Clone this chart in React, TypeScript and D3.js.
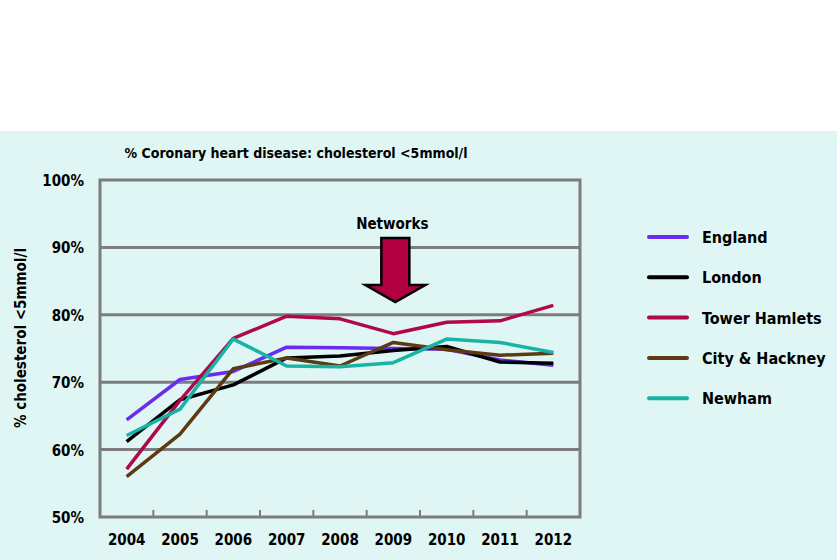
import React, { useRef, useEffect } from 'react';
import * as d3 from 'd3';

const years = ['2004', '2005', '2006', '2007', '2008', '2009', '2010', '2011', '2012'];
const england = [64.4, 70.4, 71.6, 75.2, 75.1, 75.0, 74.9, 73.3, 72.5];
const london = [61.2, 67.4, 69.6, 73.6, 73.9, 74.7, 75.3, 73.0, 72.8];
const towerHamlets = [57.1, 67.3, 76.5, 79.8, 79.4, 77.2, 78.9, 79.1, 81.4];
const cityHackney = [56.0, 62.3, 72.0, 73.6, 72.4, 75.9, 74.8, 74.0, 74.3];
const newham = [62.1, 66.0, 76.4, 72.4, 72.3, 72.9, 76.4, 75.9, 74.4];
const seriesNames = ['England', 'London', 'Tower Hamlets', 'City & Hackney', 'Newham'];
const seriesColors = ['#6a2cf0', '#000000', '#b0094b', '#5e3a12', '#17b3a5'];
const yTicks = [50, 60, 70, 80, 90, 100];

export default function App() {
  const ref = useRef<SVGSVGElement>(null);

  useEffect(() => {
    const svg = d3.select(ref.current);
    svg.selectAll('*').remove();
    const width = 837;
    const height = 560;
    const font = '"DejaVu Sans Condensed", "DejaVu Sans", sans-serif';

    // background panels
    svg.append('rect').attr('width', width).attr('height', height).attr('fill', '#ffffff');
    svg.append('rect').attr('y', 131).attr('width', width).attr('height', height - 131).attr('fill', '#dff6f4');

    const plot = { left: 100, right: 580, top: 180, bottom: 517 };

    const x = d3.scaleBand().domain(years).range([plot.left, plot.right]);
    const y = d3.scaleLinear().domain([50, 100]).range([plot.bottom, plot.top]);

    const grid = '#7d7d7d';

    // gridlines
    svg.append('g')
      .selectAll('line')
      .data(yTicks.slice(1, -1))
      .enter()
      .append('line')
      .attr('x1', plot.left)
      .attr('x2', plot.right)
      .attr('y1', d => y(d))
      .attr('y2', d => y(d))
      .attr('stroke', grid)
      .attr('stroke-width', 3);

    // tick marks at bottom between years
    svg.append('g')
      .selectAll('line')
      .data(years.slice(1))
      .enter()
      .append('line')
      .attr('x1', d => x(d)!)
      .attr('x2', d => x(d)!)
      .attr('y1', plot.bottom)
      .attr('y2', plot.bottom - 7)
      .attr('stroke', grid)
      .attr('stroke-width', 2);

    // plot frame
    svg.append('rect')
      .attr('x', plot.left)
      .attr('y', plot.top)
      .attr('width', plot.right - plot.left)
      .attr('height', plot.bottom - plot.top)
      .attr('fill', 'none')
      .attr('stroke', grid)
      .attr('stroke-width', 3);

    // y labels
    svg.append('g')
      .selectAll('text')
      .data(yTicks)
      .enter()
      .append('text')
      .attr('x', 84)
      .attr('y', d => y(d) + 6)
      .attr('text-anchor', 'end')
      .style('font-family', font)
      .style('font-weight', 'bold')
      .style('font-size', '15px')
      .text(d => d + '%');

    // x labels
    svg.append('g')
      .selectAll('text')
      .data(years)
      .enter()
      .append('text')
      .attr('x', d => x(d)! + x.bandwidth() / 2)
      .attr('y', 545)
      .attr('text-anchor', 'middle')
      .style('font-family', font)
      .style('font-weight', 'bold')
      .style('font-size', '15px')
      .text(d => d);

    // title
    svg.append('text')
      .attr('x', 296)
      .attr('y', 158)
      .attr('text-anchor', 'middle')
      .style('font-family', font)
      .style('font-weight', 'bold')
      .style('font-size', '14px')
      .text('% Coronary heart disease: cholesterol <5mmol/l');

    // y axis title
    svg.append('text')
      .attr('transform', `translate(26, 338) rotate(-90)`)
      .attr('text-anchor', 'middle')
      .style('font-family', font)
      .style('font-weight', 'bold')
      .style('font-size', '15px')
      .text('% cholesterol <5mmol/l');

    // lines
    const allSeries = [england, london, towerHamlets, cityHackney, newham];
    const line = d3.line<number>()
      .x((d, i) => x(years[i])! + x.bandwidth() / 2)
      .y(d => y(d));

    svg.append('g')
      .selectAll('path')
      .data(allSeries)
      .enter()
      .append('path')
      .attr('d', d => line(d))
      .attr('fill', 'none')
      .attr('stroke', (d, i) => seriesColors[i])
      .attr('stroke-width', 3.5)
      .attr('stroke-linejoin', 'round');

    // networks annotation
    const ax = x('2009')! + x.bandwidth() / 2 + 2;
    svg.append('text')
      .attr('x', ax - 3)
      .attr('y', 229)
      .attr('text-anchor', 'middle')
      .style('font-family', font)
      .style('font-weight', 'bold')
      .style('font-size', '15px')
      .text('Networks');

    const arrow = d3.path();
    arrow.moveTo(ax - 14, 238);
    arrow.lineTo(ax + 14, 238);
    arrow.lineTo(ax + 14, 285);
    arrow.lineTo(ax + 30, 285);
    arrow.lineTo(ax, 302);
    arrow.lineTo(ax - 30, 285);
    arrow.lineTo(ax - 14, 285);
    arrow.closePath();
    svg.append('path')
      .attr('d', arrow.toString())
      .attr('fill', '#b0003f')
      .attr('stroke', '#000')
      .attr('stroke-width', 2.5);

    // legend
    const legend = svg.append('g');
    seriesNames.forEach((name, i) => {
      const ly = 237 + i * 40.3;
      legend.append('line')
        .attr('x1', 649)
        .attr('x2', 687)
        .attr('y1', ly)
        .attr('y2', ly)
        .attr('stroke', seriesColors[i])
        .attr('stroke-width', 4)
        .attr('stroke-linecap', 'round');
      legend.append('text')
        .attr('x', 702)
        .attr('y', ly + 6)
        .style('font-family', font)
        .style('font-weight', 'bold')
        .style('font-size', '16px')
        .text(name);
    });
  }, []);

  return (
    <svg
      ref={ref}
      width={837}
      height={560}
      style={{ position: 'absolute', left: 0, top: 0 }}
    />
  );
}
